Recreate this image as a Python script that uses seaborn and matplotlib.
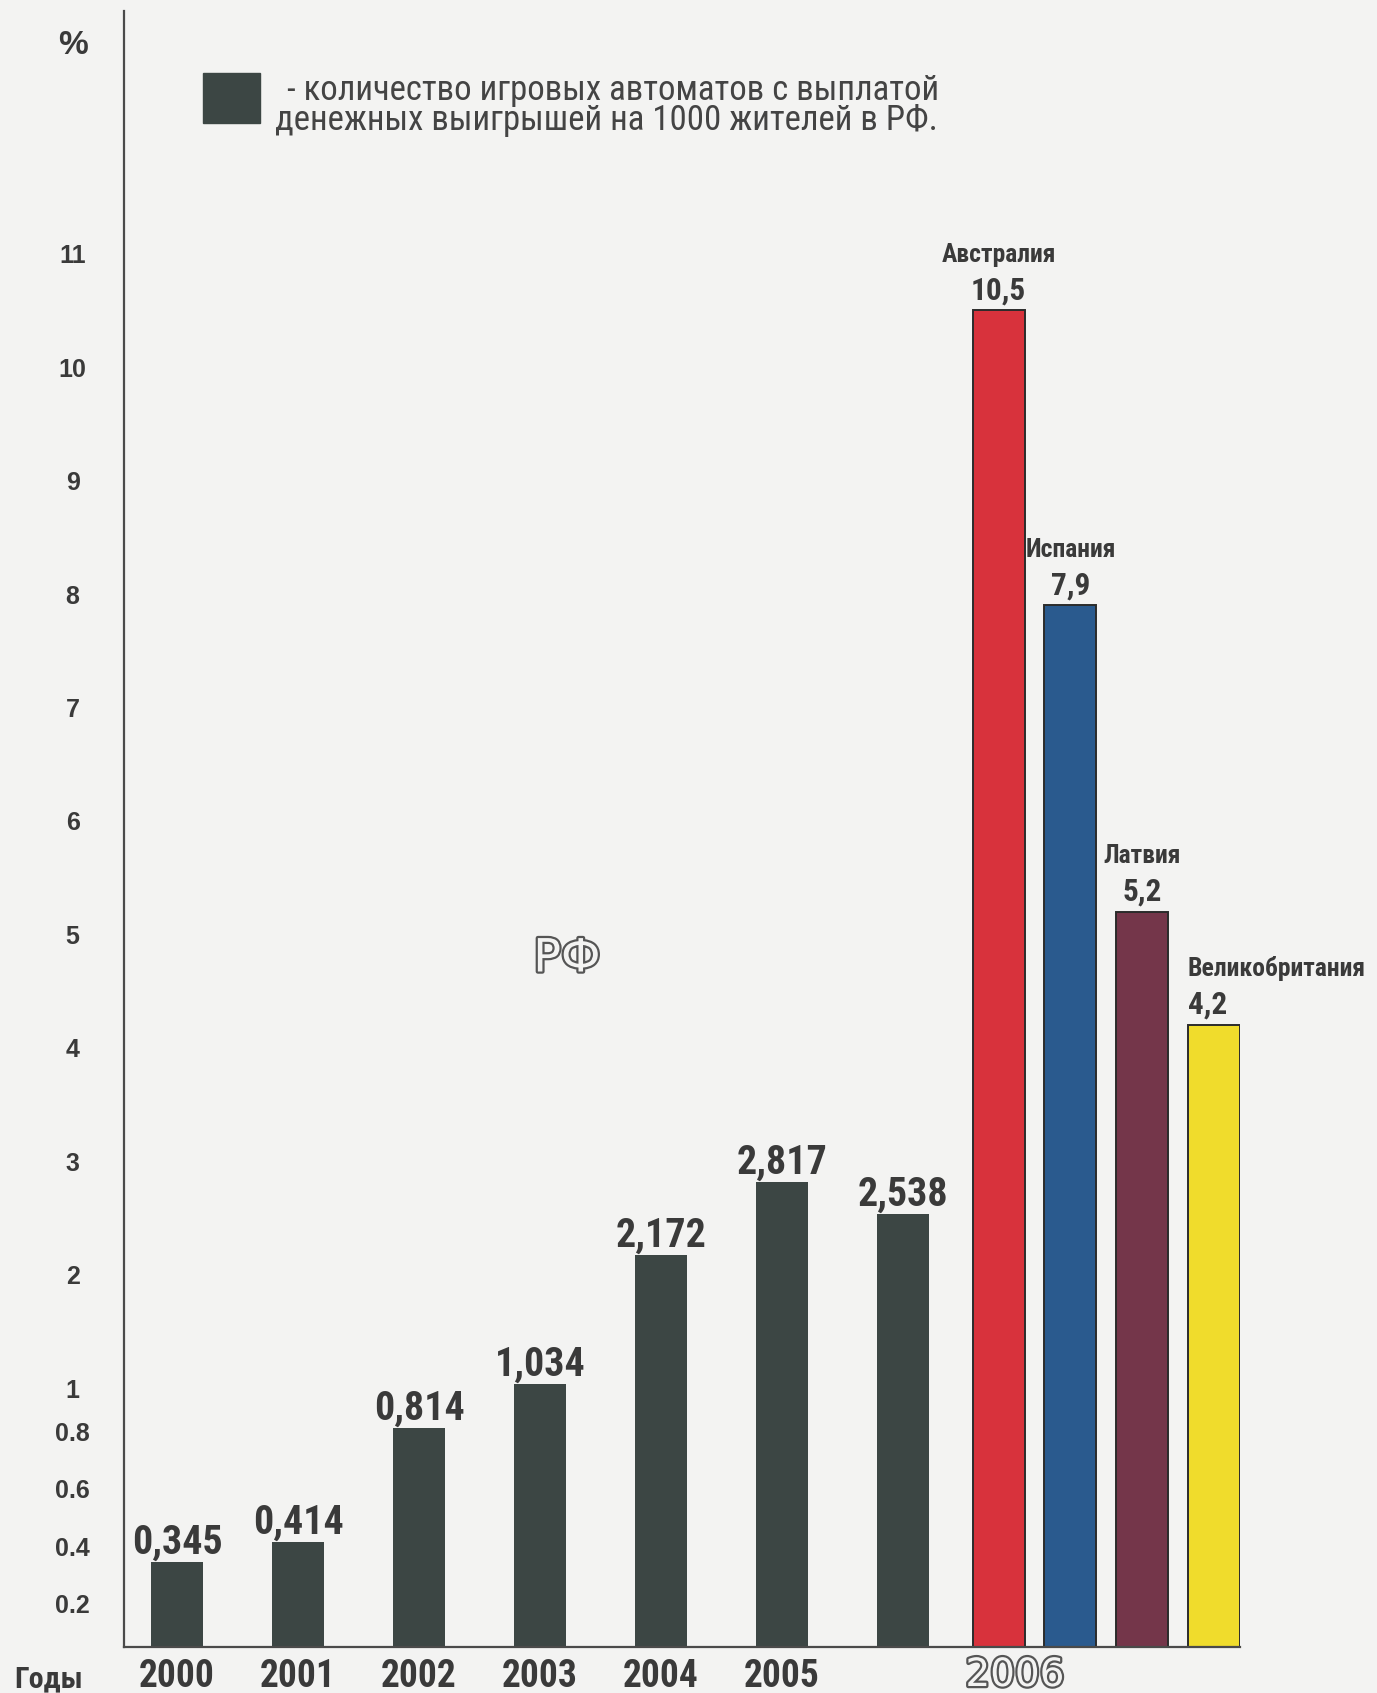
import numpy as np
import pandas as pd
import matplotlib
matplotlib.use('Agg')
import matplotlib.pyplot as plt
import matplotlib.patheffects as pe
from matplotlib.patches import Rectangle
from matplotlib import font_manager
import seaborn as sns

# --- values ---
years = ['2000', '2001', '2002', '2003', '2004', '2005']
group_year = '2006'
rf_values = [0.345, 0.414, 0.814, 1.034, 2.172, 2.817, 2.538]
rf_labels = ['0,345', '0,414', '0,814', '1,034', '2,172', '2,817', '2,538']
countries = ['Австралия', 'Испания', 'Латвия', 'Великобритания']
country_values = [10.5, 7.9, 5.2, 4.2]
country_labels = ['10,5', '7,9', '5,2', '4,2']
country_colors = ['#d8323c', '#2a5a8e', '#74364a', '#f0dc2c']
ytick_values = [0.2, 0.4, 0.6, 0.8, 1, 2, 3, 4, 5, 6, 7, 8, 9, 10, 11]
ytick_labels = ['0.2', '0.4', '0.6', '0.8', '1', '2', '3', '4', '5', '6', '7', '8', '9', '10', '11']
legend_lines = ['- количество игровых автоматов с выплатой',
                'денежных выигрышей на 1000 жителей в РФ.']

RF_COLOR = '#3c4644'
TEXT = '#3a3a3a'
BG = '#f3f3f2'
W, H = 1377, 1693

# the y axis of the original is stretched below 1 and linear above it
knots_in = [0, 0.8, 1, 20]
knots_out = [0, 230, 273, 273 + 19 * 113.4]


def fwd(v):
    return np.interp(v, knots_in, knots_out)


def inv(v):
    return np.interp(v, knots_out, knots_in)


# pick a narrow font if there is one
names = {f.name for f in font_manager.fontManager.ttflist}
if 'Liberation Sans Narrow' in names:
    NARROW = dict(family='Liberation Sans Narrow')
    k = 1.0
elif 'Roboto Condensed' in names:
    NARROW = dict(family='Roboto Condensed')
    k = 0.9
else:
    NARROW = dict(family='Liberation Sans')
    k = 0.8

sns.set_theme(style='white')
plt.rcParams['font.family'] = ['Liberation Sans', 'DejaVu Sans']

fig = plt.figure(figsize=(W / 100, H / 100), dpi=100, facecolor=BG)
ax = fig.add_axes([124 / W, 1 - 1647 / H, (1240 - 124) / W, (1647 - 11) / H])
ax.set_facecolor(BG)

rf_pos = np.arange(len(rf_values), dtype=float)
step = 0.593
country_pos = 6.79 + step * np.arange(len(countries))
bar_w = 0.43

rf_df = pd.DataFrame({'pos': rf_pos, 'value': rf_values})
sns.barplot(data=rf_df, x='pos', y='value', native_scale=True, width=bar_w,
            color=RF_COLOR, saturation=1, errorbar=None, linewidth=0, ax=ax)

c_df = pd.DataFrame({'pos': country_pos, 'value': country_values, 'country': countries})
sns.barplot(data=c_df, x='pos', y='value', hue='country', hue_order=countries,
            palette=dict(zip(countries, country_colors)), native_scale=True,
            width=bar_w / step, dodge=False, saturation=1, errorbar=None,
            edgecolor='#2b2b2b', linewidth=1.4, legend=False, ax=ax)

ax.set_yscale('function', functions=(fwd, inv))
ax.set_ylim(0.049, 13.14)
ax.set_xlim(-0.438, 8.785)
ax.set_xlabel('')
ax.set_ylabel('')
sns.despine(ax=ax)
for s in ['left', 'bottom']:
    ax.spines[s].set_color('#4a4a4a')
    ax.spines[s].set_linewidth(1.6)

ax.set_yticks(ytick_values, ytick_labels)
ax.tick_params(axis='y', length=0, pad=37, labelsize=18, labelcolor=TEXT)
for t in ax.get_yticklabels():
    t.set_ha('center')
    t.set_fontweight('bold')

ax.set_xticks(rf_pos[:len(years)], years)
ax.tick_params(axis='x', length=0, pad=8, labelsize=30 * k, labelcolor=TEXT)
for t in ax.get_xticklabels():
    t.set_fontweight('bold')
    t.set_family(NARROW['family'])

# value labels on the RF bars
for x, v, lab in zip(rf_pos, rf_values, rf_labels):
    ax.annotate(lab, (x, v), xytext=(0, 6), textcoords='offset points',
                ha='center', va='baseline', fontsize=32 * k, fontweight='bold',
                color=TEXT, **NARROW)

# country names and values
for i, (x, v, name, lab) in enumerate(zip(country_pos, country_values, countries, country_labels)):
    last = i == len(countries) - 1
    ha = 'left' if last else 'center'
    xx = x - bar_w / 2 if last else x
    ax.annotate(lab, (xx, v), xytext=(0, 8), textcoords='offset points',
                ha=ha, va='baseline', fontsize=25 * k, fontweight='bold',
                color=TEXT, **NARROW)
    ax.annotate(name, (xx, v), xytext=(0, 35), textcoords='offset points',
                ha=ha, va='baseline', fontsize=20.5 * k, fontweight='bold',
                color=TEXT, **NARROW)

# hollow captions
hollow = [pe.withStroke(linewidth=3.2, foreground='#555555')]
ax.text((1015 - 124) / 1116, (1647 - 1675) / 1636, group_year, transform=ax.transAxes,
        ha='center', va='center', fontsize=28, color=BG, family='DejaVu Sans',
        path_effects=hollow, clip_on=False)
ax.text((567 - 124) / 1116, (1647 - 959) / 1636, 'РФ', transform=ax.transAxes,
        ha='center', va='center', fontsize=33, color=BG, family='DejaVu Sans',
        path_effects=hollow)

fig.text(73 / W, 1 - 45 / H, '%', ha='center', va='center', fontsize=24,
         fontweight='bold', color=TEXT)
fig.text(49 / W, 1 - 1679 / H, 'Годы', ha='center', va='center', fontsize=24 * k,
         fontweight='bold', color=TEXT, **NARROW)

# legend
fig.add_artist(Rectangle((203 / W, 1 - 123 / H), 57 / W, 50 / H,
                         transform=fig.transFigure, color=RF_COLOR))
fig.text(287 / W, 1 - 100 / H, legend_lines[0], ha='left', va='baseline',
         fontsize=27.8 * k, color='#444444', **NARROW)
fig.text(275 / W, 1 - 130 / H, legend_lines[1], ha='left', va='baseline',
         fontsize=27.8 * k, color='#444444', **NARROW)

fig.savefig('out.png', dpi=100, facecolor=BG)
